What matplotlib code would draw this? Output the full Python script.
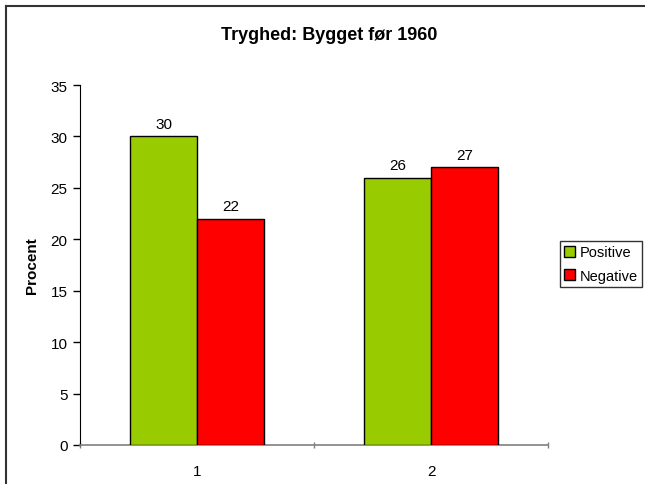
import matplotlib
matplotlib.use("Agg")
import matplotlib.pyplot as plt
from matplotlib.lines import Line2D
import numpy as np

plt.rcParams['font.family'] = ['Liberation Sans', 'DejaVu Sans']

title = "Tryghed: Bygget før 1960"
categories = ["1", "2"]
series_names = ["Positive", "Negative"]
positive = [30, 26]
negative = [22, 27]
colors = ["#99CC00", "#FF0000"]
yticks = [0, 5, 10, 15, 20, 25, 30, 35]

W, H = 645, 485
fig = plt.figure(figsize=(W / 100, H / 100), dpi=100)
# outer border (top and left only visible)
fig.lines.append(Line2D([6 / W, 6 / W], [0, (H - 7) / H], transform=fig.transFigure,
                        color="#333333", linewidth=1.5))
fig.lines.append(Line2D([6 / W, 1], [(H - 7) / H, (H - 7) / H], transform=fig.transFigure,
                        color="#333333", linewidth=1.5))

ax = fig.add_axes([80 / W, (H - 446) / H, (548 - 80) / W, (446 - 86) / H])
x = np.arange(len(categories))
bw = 0.2857
b1 = ax.bar(x - bw / 2, positive, bw, color=colors[0], edgecolor="black", linewidth=1.0,
            label=series_names[0], zorder=3)
b2 = ax.bar(x + bw / 2, negative, bw, color=colors[1], edgecolor="black", linewidth=1.0,
            label=series_names[1], zorder=3)
for bars in (b1, b2):
    for r in bars:
        ax.annotate(f"{r.get_height():g}", (r.get_x() + r.get_width() / 2, r.get_height()),
                    xytext=(0, 4), textcoords="offset points", ha="center", va="bottom",
                    fontsize=11)

ax.set_xlim(-0.5, len(categories) - 0.5)
ax.set_ylim(0, 35)
ax.set_yticks(yticks)
ax.set_xticks(x)
ax.set_xticklabels(categories)
ax.set_xticks(np.arange(len(categories) + 1) - 0.5, minor=True)
ax.tick_params(axis="x", which="major", length=0, labelsize=11, pad=14)
ax.tick_params(axis="x", which="minor", length=5, direction="inout", color="#808080", width=1)
ax.tick_params(axis="y", length=5, direction="out", labelsize=11, pad=4, width=1)
for s in ["top", "right"]:
    ax.spines[s].set_visible(False)
ax.spines["left"].set_color("black")
ax.spines["bottom"].set_color("#808080")
ax.spines["bottom"].set_linewidth(1.2)
ax.set_ylabel("Procent", fontsize=11, fontweight="bold", labelpad=8)

fig.text(329 / W, (H - 36) / H, title, ha="center", va="center",
         fontsize=13, fontweight="bold")

leg = fig.legend(handles=[b1, b2], labels=series_names, loc="center left",
                 bbox_to_anchor=(560 / W, (H - 265) / H), frameon=True, fancybox=False,
                 edgecolor="black", fontsize=10.5, handlelength=0.75, handleheight=0.75,
                 handletextpad=0.3, borderpad=0.3, labelspacing=0.65, borderaxespad=0)
leg.get_frame().set_linewidth(1.0)

fig.savefig("out.png", dpi=100)
